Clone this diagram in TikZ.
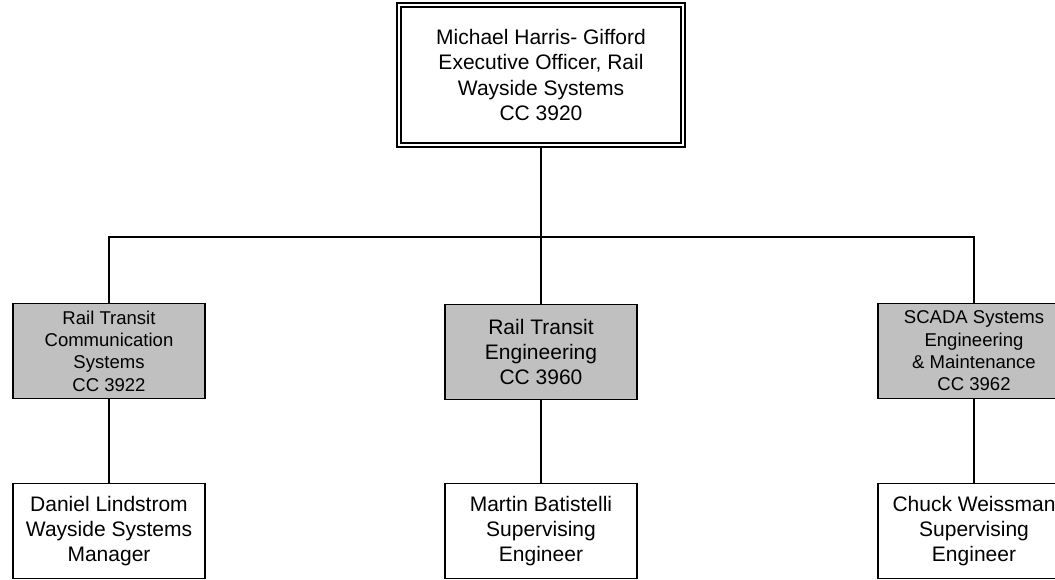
\documentclass[tikz,border=0pt]{standalone}
\usepackage{fontspec}
\setmainfont{Liberation Sans}
\definecolor{kasten}{HTML}{C0C0C0}
\tikzset{
  chef/.style={draw,double,double distance=1.8pt,line width=1.1pt,fill=white,
    minimum width=213pt,minimum height=105pt,inner sep=0pt,align=center,
    font=\fontsize{15.75}{18.8}\selectfont},
  abt/.style={draw,line width=1.2pt,fill=kasten,minimum width=144pt,
    minimum height=71.25pt,inner sep=0pt,align=center,
    font=\fontsize{13.9}{16.7}\selectfont},
  person/.style={abt,fill=white,font=\fontsize{15.75}{18.8}\selectfont},
  linie/.style={line width=1.2pt},
}
\begin{document}
\begin{tikzpicture}[x=0.75pt,y=-0.75pt]
  \useasboundingbox (0,0) rectangle (1055,580);
  \clip (0,0) rectangle (1055,580);
  % Leitung
  \node[chef] (exec) at (541,75) {Michael Harris- Gifford\\Executive Officer, Rail\\Wayside Systems\\CC 3920};
  \node[abt] (rtcs) at (109,351) {Rail Transit\\Communication\\Systems\\CC 3922};
  \node[abt,font=\fontsize{15.75}{18.8}\selectfont] (rte) at (541,352) {Rail Transit\\Engineering\\CC 3960};
  \node[abt] (scada) at (974,351) {SCADA Systems\\Engineering\\\& Maintenance\\CC 3962};
  \node[person] (lind) at (109,531) {Daniel Lindstrom\\Wayside Systems\\Manager};
  \node[person] (bati) at (541,531) {Martin Batistelli\\Supervising\\Engineer};
  \node[person] (weiss) at (974,531) {Chuck Weissman\\Supervising\\Engineer};
  \coordinate (busl) at (109,237);
  \coordinate (busr) at (974,237);
  % Verbindungen
  \draw[linie] (exec.south) -- (rte.north);
  \draw[linie] (rtcs.north) -- (busl) -- (busr) -- (scada.north);
  \draw[linie] (rtcs.south) -- (lind.north);
  \draw[linie] (rte.south) -- (bati.north);
  \draw[linie] (scada.south) -- (weiss.north);
\end{tikzpicture}
\end{document}
